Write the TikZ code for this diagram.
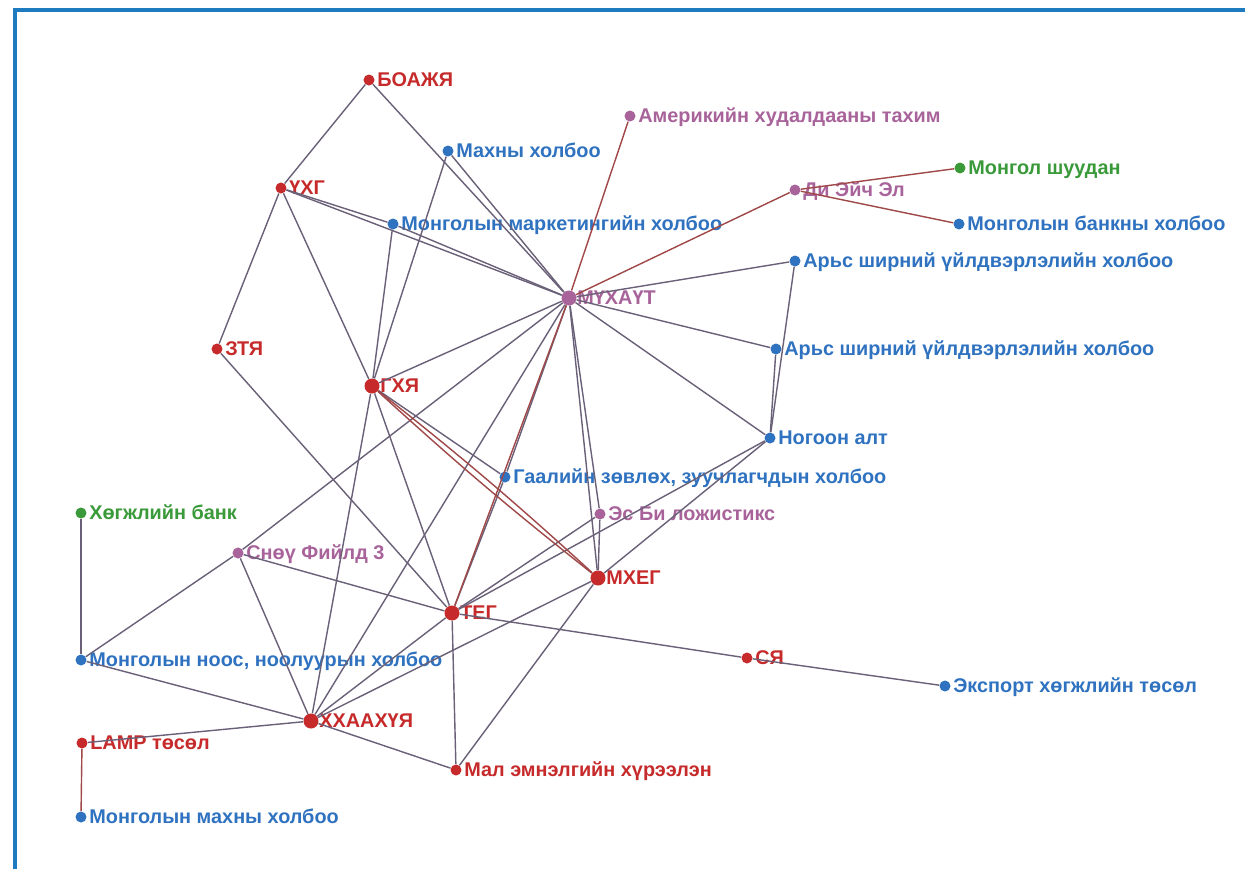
\documentclass[tikz,border=0pt]{standalone}
\usepackage{fontspec}
\setmainfont{Liberation Sans}
\definecolor{cred}{HTML}{C62A2A}
\definecolor{cblue}{HTML}{2F72C0}
\definecolor{cpurp}{HTML}{A8639A}
\definecolor{cgreen}{HTML}{3A9A3A}
\definecolor{cedge}{HTML}{6A6078}
\definecolor{credge}{HTML}{A04848}
\definecolor{cframe}{HTML}{1E7BC0}
\newcommand\gnode[6]{%
  \node[dot=#4,#5] (#1) at (#2,#3) {};
  \node[lbl=#4] (#1-l) at ([shift={(8,6.5)}]#1.center) {#6};}
\begin{document}
\begin{tikzpicture}[x=0.02cm,y=-0.02cm,
  dot/.style={circle,fill=#1,draw=none,inner sep=0pt},
  small/.style={minimum size=0.22cm},
  big/.style={minimum size=0.3cm},
  lbl/.style={font=\bfseries\fontsize{11.3}{13}\selectfont,text=#1,anchor=base west,inner sep=0pt},
  edge/.style={draw=cedge,line width=0.8pt},
  redge/.style={draw=credge,line width=0.8pt}]
\useasboundingbox (0,0) rectangle (1245,869);
\fill[white] (0,0) rectangle (1245,869);
\draw[cframe,line width=1.8pt] (15,869) -- (15,10) -- (1245,10);

\gnode{boa}{369}{80}{cred}{small}{БОАЖЯ}
\gnode{maxny}{448}{151}{cblue}{small}{Махны холбоо}
\gnode{amer}{630}{116}{cpurp}{small}{Америкийн худалдааны тахим}
\gnode{uxg}{281}{188}{cred}{small}{ҮХГ}
\gnode{mark}{393}{224}{cblue}{small}{Монголын маркетингийн холбоо}
\gnode{dhl}{795}{190}{cpurp}{small}{Ди Эйч Эл}
\gnode{shuu}{960}{168}{cgreen}{small}{Монгол шуудан}
\gnode{bank}{959}{224}{cblue}{small}{Монголын банкны холбоо}
\gnode{arsa}{795}{261}{cblue}{small}{Арьс ширний үйлдвэрлэлийн холбоо}
\gnode{mux}{569}{298}{cpurp}{big}{МҮХАҮТ}
\gnode{ztya}{217}{349}{cred}{small}{ЗТЯ}
\gnode{arsb}{776}{349}{cblue}{small}{Арьс ширний үйлдвэрлэлийн холбоо}
\gnode{gxya}{372}{386}{cred}{big}{ГХЯ}
\gnode{nog}{770}{438}{cblue}{small}{Ногоон алт}
\gnode{gaal}{505}{477}{cblue}{small}{Гаалийн зөвлөх, зуучлагчдын холбоо}
\gnode{xogj}{81}{513}{cgreen}{small}{Хөгжлийн банк}
\gnode{esbi}{600}{514}{cpurp}{small}{Эс Би ложистикс}
\gnode{snou}{238}{553}{cpurp}{small}{Снөү Фийлд 3}
\gnode{mxeg}{598}{578}{cred}{big}{МХЕГ}
\gnode{teg}{452}{613}{cred}{big}{ТЕГ}
\gnode{sya}{747}{658}{cred}{small}{СЯ}
\gnode{noos}{81}{660}{cblue}{small}{Монголын ноос, ноолуурын холбоо}
\gnode{exp}{945}{686}{cblue}{small}{Экспорт хөгжлийн төсөл}
\gnode{xxaa}{311}{721}{cred}{big}{ХХААХҮЯ}
\gnode{lamp}{82}{743}{cred}{small}{LAMP төсөл}
\gnode{mal}{456}{770}{cred}{small}{Мал эмнэлгийн хүрээлэн}
\gnode{mmax}{81}{817}{cblue}{small}{Монголын махны холбоо}

\foreach \a/\b in {boa/uxg,boa/mux,maxny/mux,maxny/gxya,uxg/mark,uxg/mux,uxg/ztya,uxg/gxya,
  mark/mux,mark/gxya,ztya/teg,gxya/mux,gxya/gaal,gxya/teg,gxya/xxaa,
  snou/mux,snou/noos,snou/teg,snou/xxaa,xogj/noos,noos/xxaa,xxaa/lamp,xxaa/mal,
  xxaa/teg,xxaa/mxeg,xxaa/mux,mux/gaal,gaal/teg,teg/esbi,teg/nog,teg/sya,teg/mal,
  mxeg/mux,mxeg/esbi,mxeg/nog,mxeg/mal,mux/esbi,mux/arsa,mux/arsb,mux/nog,
  arsa/nog,arsb/nog,sya/exp}
  \draw[edge] (\a) -- (\b);
\foreach \a/\b in {mux/amer,mux/dhl,dhl/shuu,dhl/bank,lamp/mmax,mux/teg}
  \draw[redge] (\a) -- (\b);
\draw[redge] (gxya) to[bend left=2] (mxeg);
\draw[redge] (gxya) to[bend right=2] (mxeg);
\end{tikzpicture}
\end{document}
